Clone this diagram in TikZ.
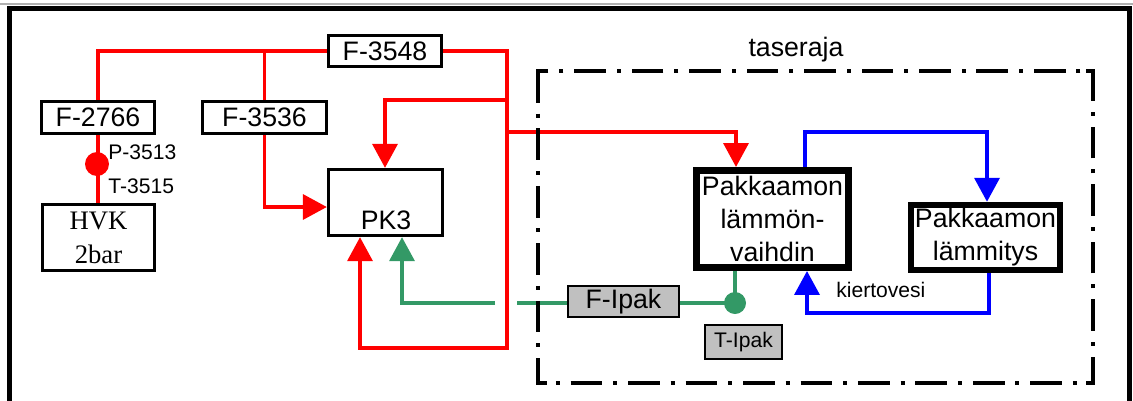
\documentclass[tikz,border=0pt]{standalone}
\usepackage{fontspec}
\setmainfont{Liberation Sans}
\newfontfamily\serifhvk{Liberation Serif}
\usetikzlibrary{arrows.meta}
\definecolor{pipered}{HTML}{FF0000}
\definecolor{pipeblue}{HTML}{0000FF}
\definecolor{pipegreen}{HTML}{339966}
\definecolor{boxgray}{HTML}{C0C0C0}
\definecolor{topgray}{HTML}{B0B0B0}
\begin{document}
\begin{tikzpicture}[x=0.02cm,y=-0.02cm,
  mainfont/.style={font=\fontsize{15.2}{18.7}\selectfont},
  smallfont/.style={font=\fontsize{12}{14}\selectfont},
  fbox/.style={draw, line width=1.9pt, inner sep=0pt, mainfont},
  thickbox/.style={draw, line width=3.7pt, inner sep=0pt, align=center, mainfont},
  graybox/.style={draw, fill=boxgray, line width=1.1pt, inner sep=0pt, mainfont},
  lbl/.style={inner sep=0pt, smallfont},
  arr/.style={-{Triangle[length=0.48cm,width=0.5cm]}},
  rline/.style={draw=pipered, line width=2pt},
  gline/.style={draw=pipegreen, line width=2pt},
  bline/.style={draw=pipeblue, line width=2.1pt},
  dashdotline/.style={line width=2.8pt, dash pattern=on 18pt off 6.2pt on 2.3pt off 6.2pt},
  cornerline/.style={line width=2.8pt}
]
\useasboundingbox (0,0) rectangle (1133,400);
% page frame
\draw[topgray, line width=1.2pt] (0,4) -- (1133,4);
\draw[line width=2.3pt] (9.5,8.5) rectangle (1129.5,430);

% boxes
\node[fbox, minimum width=2.26cm, minimum height=0.62cm] (f3548) at (385,51) {F-3548};
\node[fbox, minimum width=2.26cm, minimum height=0.64cm] (f2766) at (98,117.5) {F-2766};
\node[fbox, minimum width=2.48cm, minimum height=0.64cm] (f3536) at (264.5,117.5) {F-3536};
\node[draw, line width=1.6pt, minimum width=2.24cm, minimum height=1.32cm, align=center,
      inner sep=0pt, font=\serifhvk\fontsize{15.2}{19.3}\selectfont] (hvk) at (98.5,237.5) {HVK\\2bar};
\node[draw, line width=1.9pt, minimum width=2.28cm, minimum height=1.32cm, inner sep=0pt] (pk3) at (385.5,202.5) {};
\node[mainfont, inner sep=0pt] (pk3t) at (386,220) {PK3};
\node[thickbox, minimum width=3.05cm, minimum height=1.95cm] (hx) at (772.5,219) {Pakkaamon\\lämmön-\\vaihdin};
\node[thickbox, minimum width=2.98cm, minimum height=1.30cm] (lm) at (985.5,237.5) {Pakkaamon\\lämmitys};
\node[graybox, minimum width=2.22cm, minimum height=0.62cm] (fipak) at (623.5,301.5) {F-Ipak};
\node[graybox, smallfont, minimum width=1.54cm, minimum height=0.68cm] (tipak) at (743.5,342) {T-Ipak};

% labels
\node[lbl, anchor=west] (lp) at (108,152) {P-3513};
\node[lbl, anchor=west] (lt) at (108,186) {T-3515};
\node[lbl, anchor=west] (lk) at (836,290) {kiertovesi};
\node[mainfont, inner sep=0pt] (ltase) at (796,50) {taseraja};

% junction coordinates
\coordinate (rA) at (507,348);
\coordinate (rB) at (360,348);
\coordinate (jB) at (507,100);
\coordinate (cB) at (385,100);
\coordinate (jC) at (507,132);
\coordinate (cC) at (736,132);
\coordinate (dY) at (0,207);
\coordinate (g1) at (495,303);
\coordinate (g2) at (402,303);
\coordinate (g3) at (517,303);
\coordinate (b1) at (805,132);
\coordinate (b2) at (987,132);
\coordinate (b3) at (989,313);
\coordinate (b4) at (807,313);

% red pipes
\draw[rline] (f3548.west) -| (f2766.north);
\draw[rline] (f3536.north) -- (f3536.north |- f3548.west);
\draw[rline] (f2766.south) -- (f2766.south |- hvk.north);
\draw[rline, arr] (f3548.east) -| (rA) -- (rB) -- (pk3.south -| rB);
\draw[rline, arr] (jB) -- (cB) -- (pk3.north -| cB);
\draw[rline, arr] (jC) -- (cC) -- (hx.north -| cC);
\draw[rline, arr] (f3536.south) |- (pk3.west |- dY);
\node[circle, fill=pipered, inner sep=0pt, minimum size=0.48cm] (rdot) at (97,164) {};

% green pipes
\draw[gline, arr] (g1) -| (pk3.south -| g2);
\draw[gline] (g3) -- (fipak.west |- g3);
\draw[gline] (fipak.east |- g3) -- (735,303) coordinate (gc);
\node[circle, fill=pipegreen, inner sep=0pt, minimum size=0.44cm] (gdot) at (gc) {};
\draw[gline] (gdot.center) -- (gdot.center |- hx.south);

% blue pipes
\draw[bline, arr] (hx.north -| b1) -- (b1) -- (b2) -- (lm.north -| b2);
\draw[bline, arr] (lm.south -| b3) -- (b3) -- (b4) -- (hx.south -| b4);

% system boundary
\draw[dashdotline] (538,71) rectangle (1093,383);
\draw[cornerline] (538,100) -- (538,71) -- (546,71);
\draw[cornerline] (538,360) -- (538,383) -- (547,383);
\draw[cornerline] (1086,71) -- (1093,71) -- (1093,95);
\draw[cornerline] (1086,383) -- (1093,383) -- (1093,357);
\end{tikzpicture}
\end{document}
